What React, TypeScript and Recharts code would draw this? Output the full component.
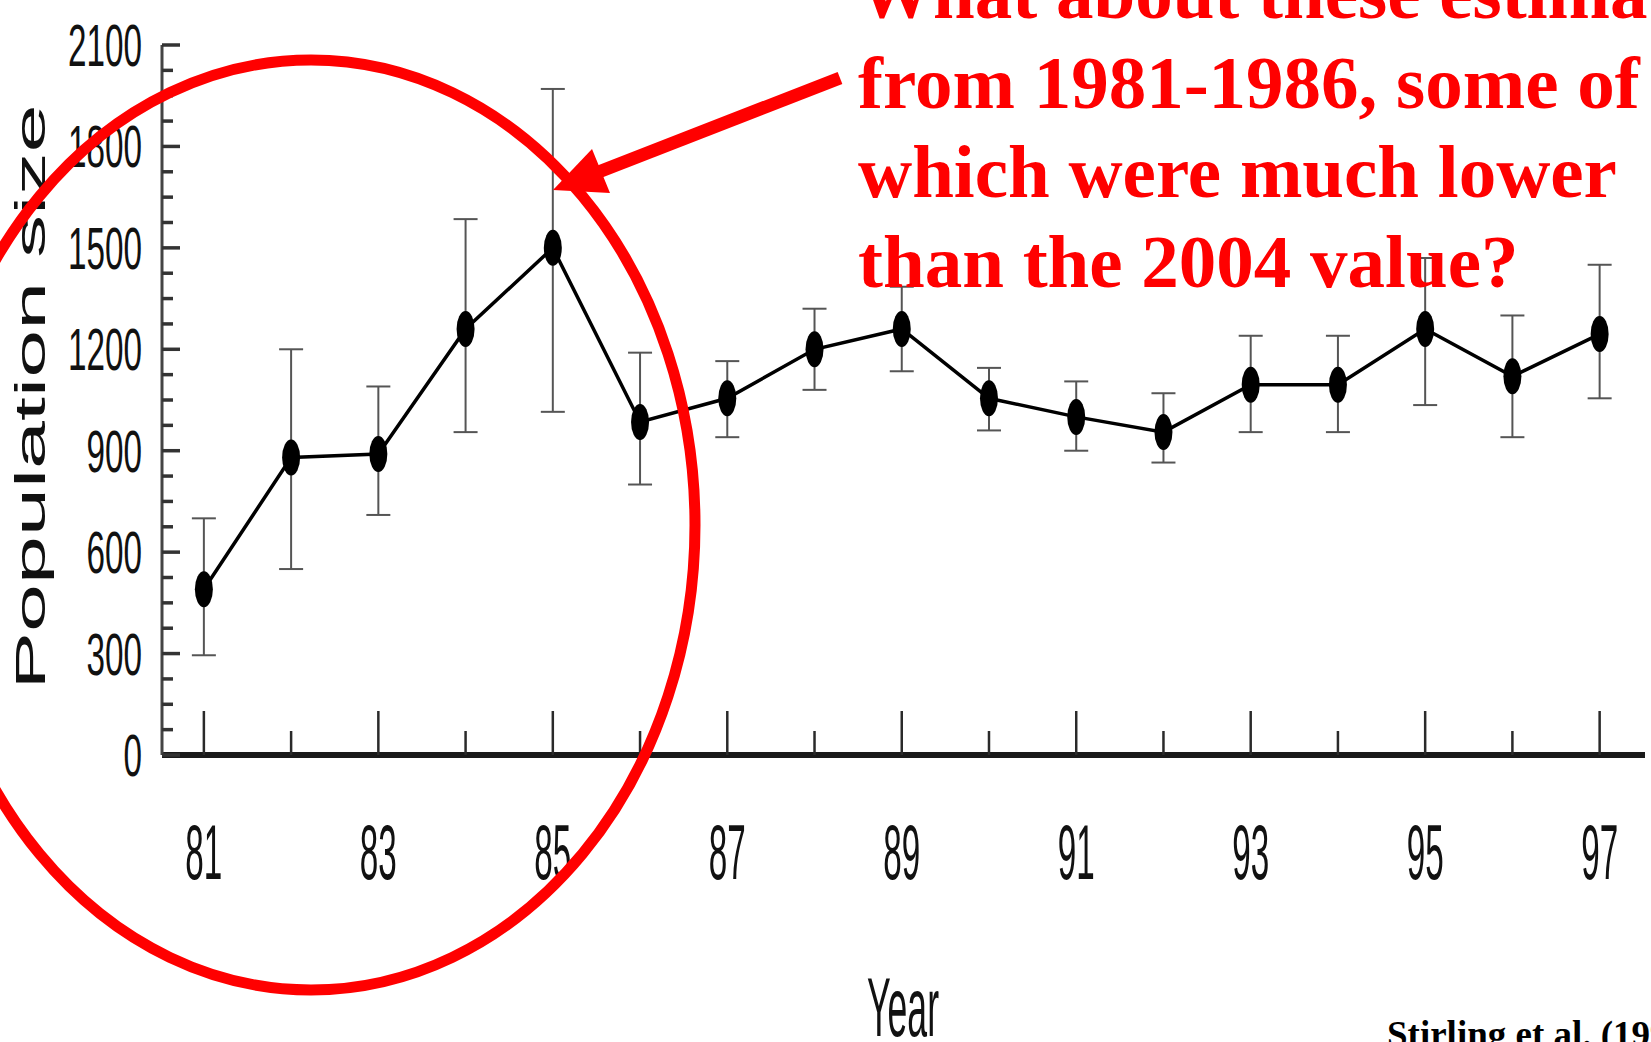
import React from 'react';
import { LineChart, Line, XAxis, YAxis, ErrorBar } from 'recharts';

const years = [81, 82, 83, 84, 85, 86, 87, 88, 89, 90, 91, 92, 93, 94, 95, 96, 97];
const estimates = [490, 880, 890, 1260, 1500, 985, 1055, 1200, 1260, 1055, 1000, 955, 1095, 1095, 1260, 1120, 1245];
const lowerCI = [295, 550, 710, 955, 1015, 800, 940, 1080, 1135, 960, 900, 865, 955, 955, 1035, 940, 1055];
const upperCI = [700, 1200, 1090, 1585, 1970, 1190, 1165, 1320, 1385, 1145, 1105, 1070, 1240, 1240, 1470, 1300, 1450];

const xLabelYears = [81, 83, 85, 87, 89, 91, 93, 95, 97];
const yLabelTicks = [0, 300, 600, 900, 1200, 1500, 1800, 2100];
const yMinorTicks = [0, 75, 150, 225, 300, 375, 450, 525, 600, 675, 750, 825, 900, 975, 1050, 1125, 1200, 1275, 1350, 1425, 1500, 1575, 1650, 1725, 1800, 1875, 1950, 2025, 2100];

const noteLines = [
  'What about these estimates',
  'from 1981-1986, some of',
  'which were much lower',
  'than the 2004 value?',
];
const sourceText = 'Stirling et al. (1999)';

const data = years.map((year, i) => ({
  year,
  est: estimates[i],
  err: [estimates[i] - lowerCI[i], upperCI[i] - estimates[i]],
}));

const XTick = (props: any) => {
  const { x, y, payload } = props;
  const v = payload.value;
  const major = xLabelYears.includes(v);
  const len = 37;
  return (
    <g>
      <line x1={x} x2={x} y1={y} y2={y - (major ? 44 : 24)} stroke="#2a2a2a" strokeWidth={2.5} />
      {major && (
        <text
          x={x - len / 2}
          y={y + 124}
          fontFamily="'Liberation Sans', Arial, sans-serif"
          fontSize={77}
          fill="#111"
          textLength={len}
          lengthAdjust="spacingAndGlyphs"
        >
          {String(v)}
        </text>
      )}
    </g>
  );
};

const YTick = (props: any) => {
  const { x, y, payload } = props;
  const v = payload.value;
  const major = yLabelTicks.includes(v);
  const label = String(v);
  const len = label.length * 18.5;
  return (
    <g>
      <line x1={x} x2={x + (major ? 18 : 11)} y1={y} y2={y} stroke="#333" strokeWidth={3.5} />
      {major && (
        <text
          x={x - 20 - len}
          y={y + 21}
          fontFamily="'Liberation Sans', Arial, sans-serif"
          fontSize={59}
          fill="#111"
          textLength={len}
          lengthAdjust="spacingAndGlyphs"
        >
          {label}
        </text>
      )}
    </g>
  );
};

const Dot = (props: any) => {
  const { cx, cy } = props;
  if (cx == null || cy == null) return null;
  return <ellipse cx={cx} cy={cy} rx={9} ry={18} fill="#000" />;
};

export default function App() {
  return (
    <div style={{ position: 'absolute', left: 0, top: 0, width: 1651, height: 1042, background: '#fff', overflow: 'hidden' }}>
      <LineChart
        width={1651}
        height={1042}
        data={data}
        margin={{ top: 45, right: 6, bottom: 167, left: 0 }}
      >
        <XAxis
          type="number"
          dataKey="year"
          domain={[80.52, 97.52]}
          ticks={years}
          interval={0}
          tick={<XTick />}
          tickLine={false}
          tickSize={0}
          tickMargin={0}
          axisLine={{ stroke: '#1a1a1a', strokeWidth: 6 }}
          height={120}
          allowDataOverflow
        />
        <YAxis
          type="number"
          domain={[0, 2100]}
          ticks={yMinorTicks}
          interval={0}
          tick={<YTick />}
          tickLine={false}
          tickSize={0}
          tickMargin={0}
          axisLine={{ stroke: '#444', strokeWidth: 3 }}
          width={162}
          allowDataOverflow
        />
        <Line
          type="linear"
          dataKey="est"
          stroke="#000"
          strokeWidth={3.5}
          dot={<Dot />}
          activeDot={false}
          isAnimationActive={false}
        >
          <ErrorBar dataKey="err" width={12} stroke="#555" strokeWidth={2} direction="y" />
        </Line>
      </LineChart>
      <svg
        width={1651}
        height={1042}
        style={{ position: 'absolute', left: 0, top: 0, pointerEvents: 'none' }}
      >
        <text
          transform="translate(45, 397) rotate(-90)"
          textAnchor="middle"
          fontFamily="'Liberation Sans', Arial, sans-serif"
          fontSize={42}
          fill="#111"
          textLength={585}
          lengthAdjust="spacingAndGlyphs"
        >
          Population size
        </text>
        <text
          x={903 - 36}
          y={1036}
          fontFamily="'Liberation Sans', Arial, sans-serif"
          fontSize={84}
          fill="#111"
          textLength={72}
          lengthAdjust="spacingAndGlyphs"
        >
          Year
        </text>
        <ellipse cx={311} cy={525} rx={384} ry={465} fill="none" stroke="#ff0000" strokeWidth={11} />
        <line x1={840} y1={78} x2={596} y2={173} stroke="#ff0000" strokeWidth={13} />
        <polygon points="553,190 592,149 610,193" fill="#ff0000" />
        {noteLines.map((t, i) => (
          <text
            key={i}
            x={858}
            y={18 + i * 89.5}
            fontFamily="'Liberation Serif', 'Times New Roman', serif"
            fontWeight="bold"
            fontSize={75}
            fill="#ff0000"
          >
            {t}
          </text>
        ))}
        <text
          x={1387}
          y={1047}
          fontFamily="'Liberation Serif', 'Times New Roman', serif"
          fontWeight="bold"
          fontSize={37}
          fill="#000"
        >
          {sourceText}
        </text>
      </svg>
    </div>
  );
}
